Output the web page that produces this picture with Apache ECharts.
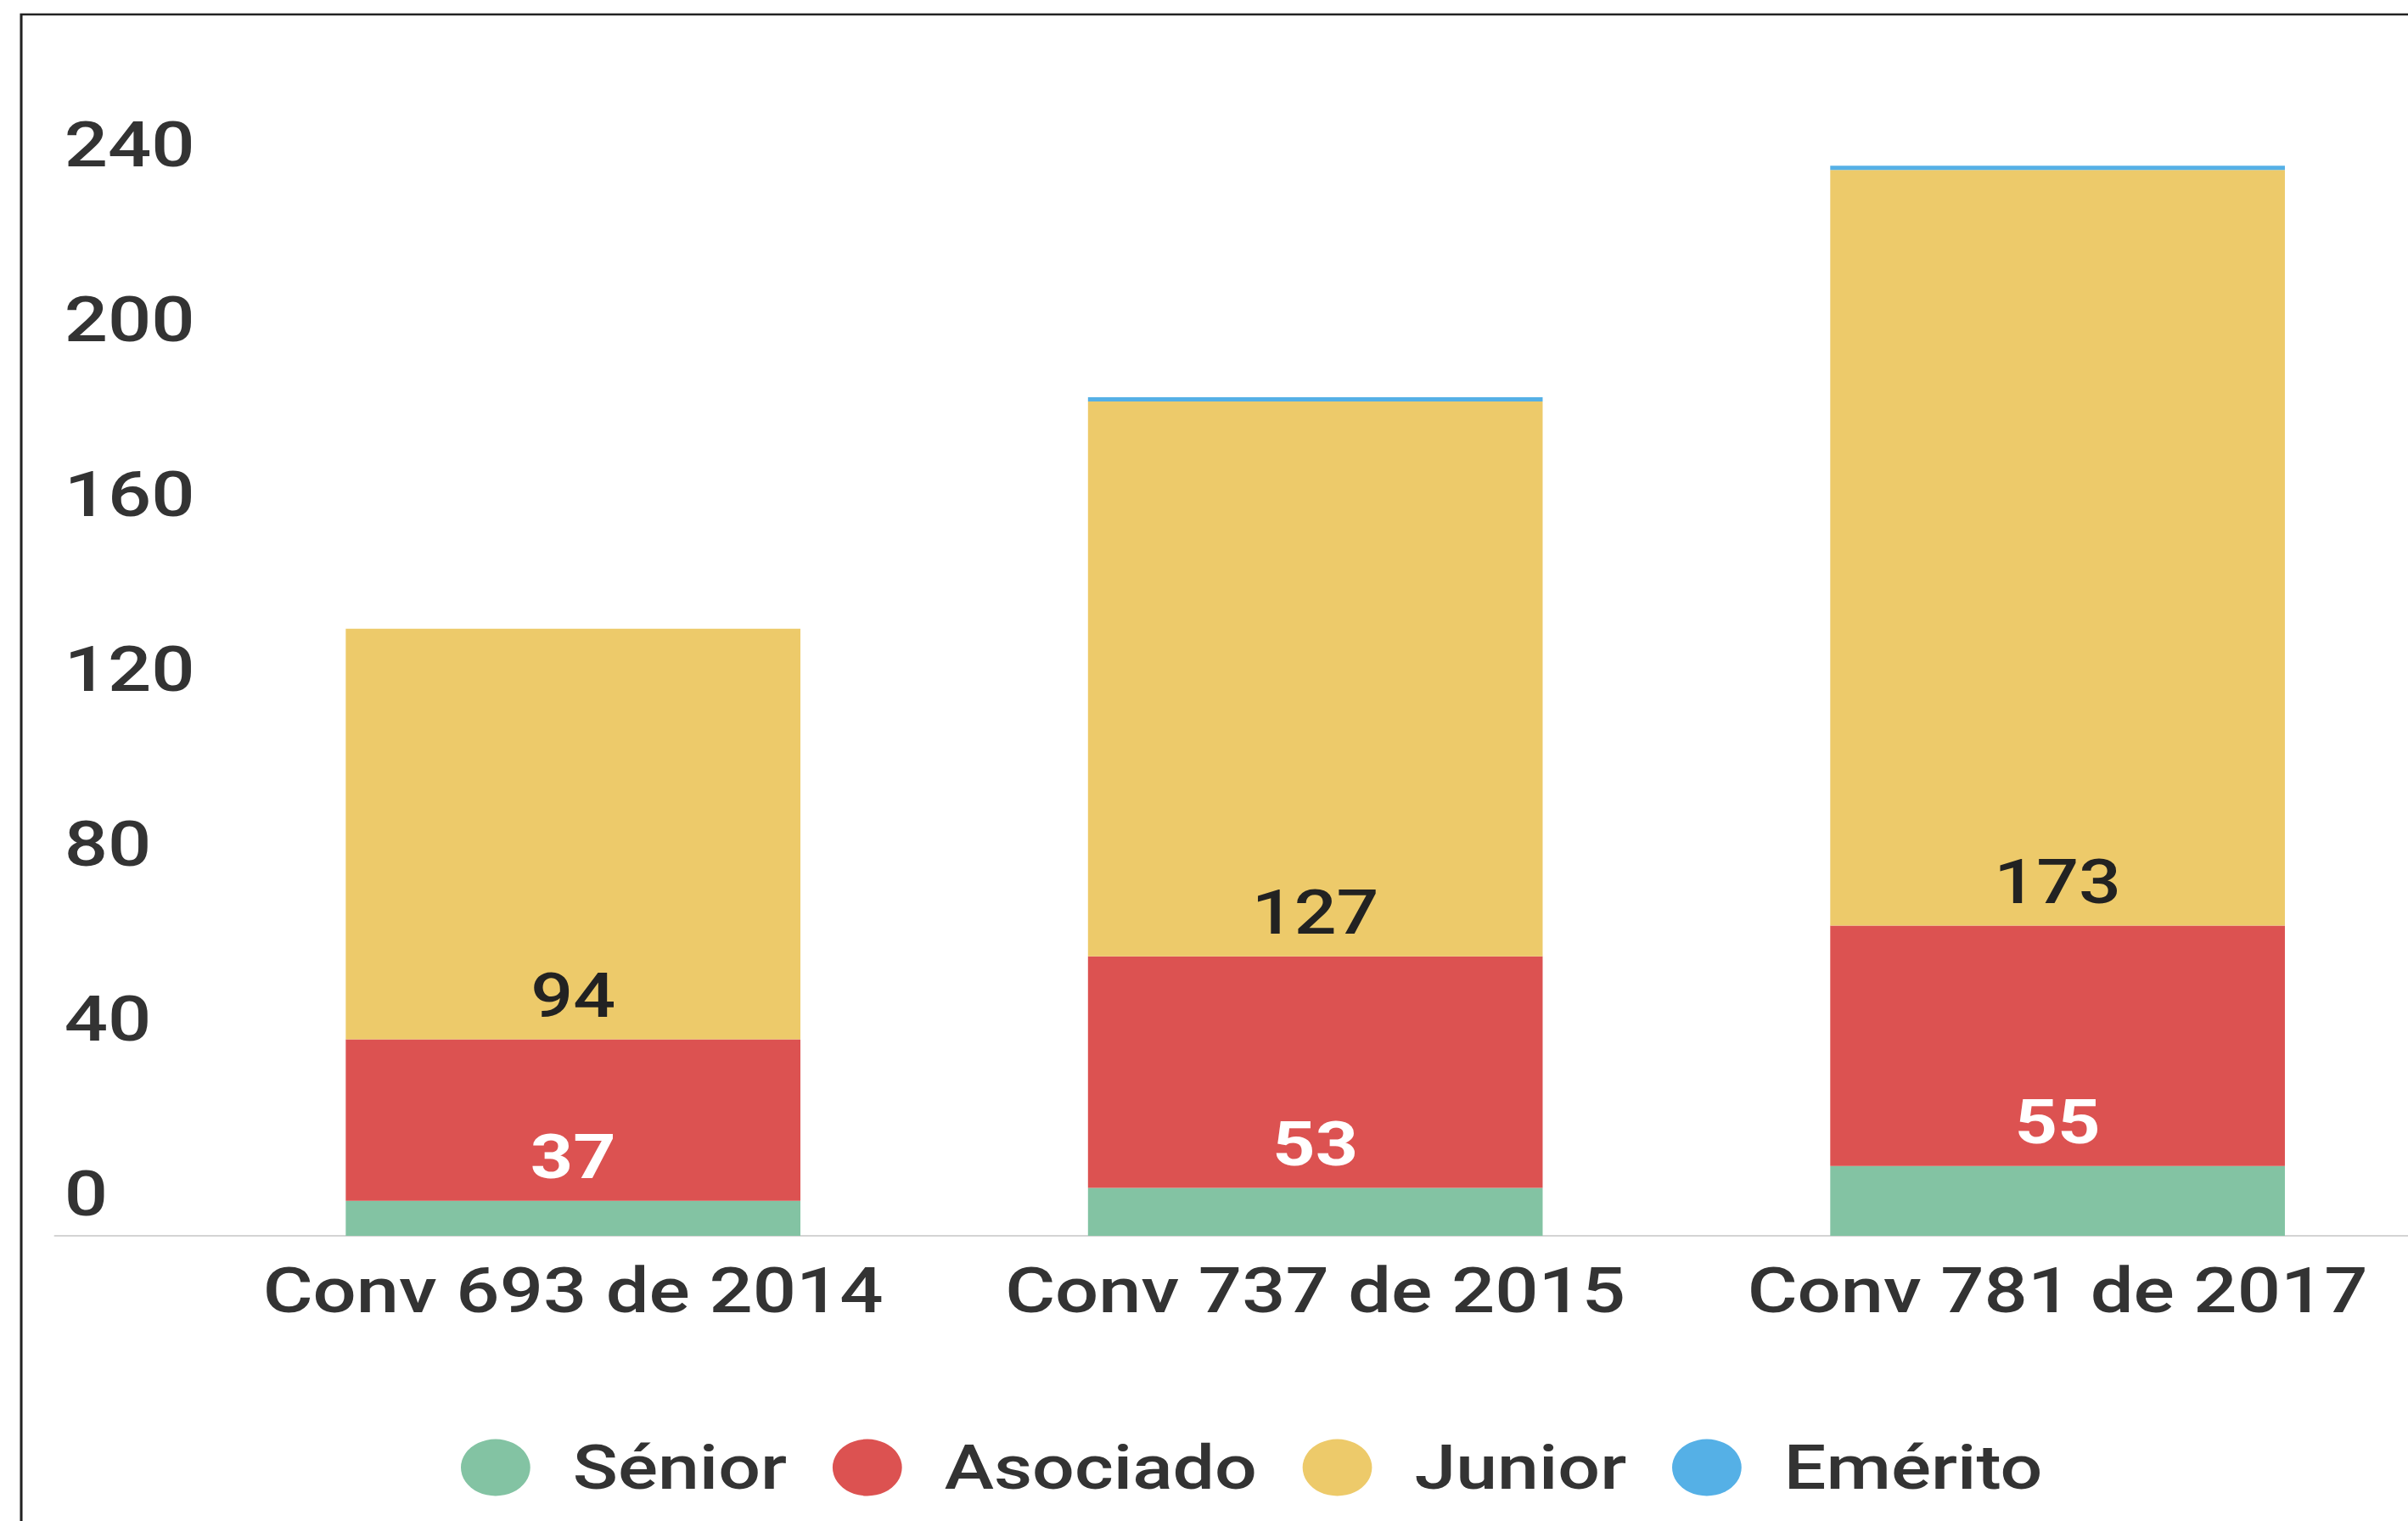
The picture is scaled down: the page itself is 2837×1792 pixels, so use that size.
<!DOCTYPE html>
<html>
<head>
<meta charset="utf-8">
<title>Convocatorias</title>
<script src="https://cdn.jsdelivr.net/npm/echarts@6/dist/echarts.min.js"></script>
<style>
  html, body { margin: 0; padding: 0; background: #fff; overflow: hidden; }
  /* the reference is stretched sideways, so the chart is drawn narrower and scaled in x */
  #chart {
    width: 2400px;
    height: 1792px;
    transform: scaleX(1.2202);
    transform-origin: left top;
  }
</style>
</head>
<body>
<div id="chart"></div>
<script>
  const categories = ['Conv 693 de 2014', 'Conv 737 de 2015', 'Conv 781 de 2017'];
  const seriesNames = ['Sénior', 'Asociado', 'Junior', 'Emérito'];
  const senior = [8, 11, 16];
  const asociado = [37, 53, 55];
  const junior = [94, 127, 173];
  const emerito = [0, 1, 1];
  const yMax = 280;
  const yStep = 40;

  const colors = ['#83c3a3', '#dc5251', '#edca6a', '#55b0e6'];
  const font = 'Roboto, "Noto Sans", sans-serif';

  const chart = echarts.init(document.getElementById('chart'), null, {renderer: 'svg'});

  function barLabel(color, weight) {
    return {
      show: true,
      position: 'insideBottom',
      distance: 15,
      color: color,
      fontSize: 72,
      fontWeight: weight,
      fontFamily: font
    };
  }

  chart.setOption({
    animation: false,
    color: colors,
    graphic: [{
      type: 'rect',
      shape: {x: 20.5, y: 17, width: 4000, height: 4000},
      style: {fill: 'none', stroke: '#222', lineWidth: 2.5},
      silent: true
    }],
    legend: {
      data: seriesNames,
      left: 440,
      top: 1688,
      icon: 'circle',
      itemWidth: 139,
      itemHeight: 67,
      itemGap: 44,
      textStyle: {fontSize: 72, color: '#333', fontFamily: font, fontWeight: 500}
    },
    grid: [
      {left: 195, width: 2150, top: 15, height: 1441},
      {left: 53, right: 0, top: 15, height: 1441}
    ],
    xAxis: [
      {
        type: 'category',
        gridIndex: 0,
        data: categories,
        axisLine: {show: false},
        axisTick: {show: false},
        axisLabel: {interval: 0, fontSize: 74, color: '#333', margin: 27, fontFamily: font, fontWeight: 500}
      },
      {
        type: 'value',
        gridIndex: 1,
        min: 0,
        max: 1,
        axisLine: {show: true, lineStyle: {color: '#d4d4d4', width: 2}},
        axisTick: {show: false},
        axisLabel: {show: false},
        splitLine: {show: false}
      }
    ],
    yAxis: [
      {
        type: 'value',
        gridIndex: 0,
        min: 0,
        max: yMax,
        interval: yStep,
        axisLine: {show: false},
        axisTick: {show: false},
        splitLine: {show: false},
        axisLabel: {
          fontSize: 74,
          color: '#333',
          fontFamily: font,
          fontWeight: 500,
          align: 'left',
          margin: 133,
          verticalAlign: 'bottom',
          lineHeight: 100,
          formatter: function (v) { return v === yMax ? '' : String(v); }
        }
      },
      {type: 'value', gridIndex: 1, min: 0, max: 1, show: false}
    ],
    series: [
      {name: seriesNames[0], type: 'bar', stack: 'total', barWidth: 439, data: senior},
      {name: seriesNames[1], type: 'bar', stack: 'total', barWidth: 439, data: asociado,
        label: barLabel('#fff', 'bold')},
      {name: seriesNames[2], type: 'bar', stack: 'total', barWidth: 439, data: junior,
        label: barLabel('#222', 500)},
      {name: seriesNames[3], type: 'bar', stack: 'total', barWidth: 439, data: emerito}
    ]
  });
</script>
</body>
</html>
